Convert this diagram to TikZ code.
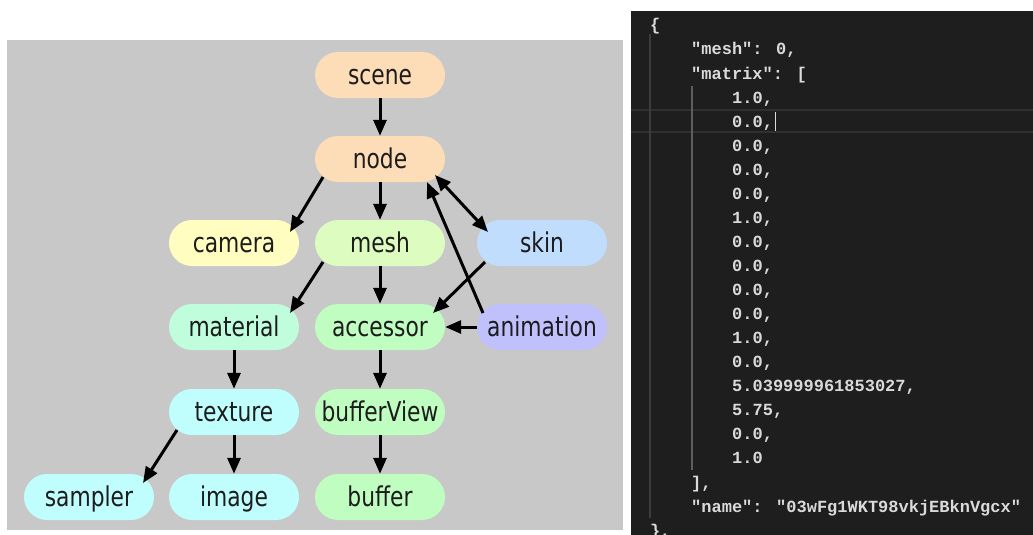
\documentclass[tikz,border=0pt]{standalone}
\usepackage{fontspec}
\setmainfont{DejaVu Sans}
\newfontfamily\codefont{Liberation Mono}
\usetikzlibrary{arrows.meta}

\definecolor{panelgray}{HTML}{C8C8C8}
\definecolor{editorbg}{HTML}{1E1E1E}
\definecolor{codetext}{HTML}{DADADA}
\definecolor{guidedim}{HTML}{3C3C3C}
\definecolor{guideact}{HTML}{5E5E5E}
\definecolor{linehl}{HTML}{303030}
\definecolor{labeltext}{HTML}{1C1C1C}
\definecolor{peach}{HTML}{FDDCB8}
\definecolor{paleyellow}{HTML}{FFFDC0}
\definecolor{palelime}{HTML}{DDFDC0}
\definecolor{paleblue}{HTML}{C0DDFD}
\definecolor{mint}{HTML}{C0FDDD}
\definecolor{palegreen}{HTML}{C0FDC0}
\definecolor{lavender}{HTML}{C0C0FD}
\definecolor{palecyan}{HTML}{C0FDFD}

% tall label lettering of the graph nodes
\newcommand{\tallword}[1]{\scalebox{1}[1.25]{#1}}

\begin{document}
\begin{tikzpicture}[x=1pt,y=-1pt,
  pill/.style={rectangle, rounded corners=23pt, minimum width=130pt,
    minimum height=46pt, inner sep=2pt, text=labeltext,
    text height=24pt, text depth=5pt,
    font=\fontsize{21.8}{25}\selectfont},
  arr/.style={line width=3pt, -{Triangle[length=16pt,width=13pt]}},
  biarr/.style={line width=3pt, {Triangle[length=16pt,width=13pt]}-{Triangle[length=16pt,width=13pt]}},
  code/.style={anchor=base west, inner sep=0pt, text=codetext,
    font=\codefont\bfseries\fontsize{17}{20}\selectfont},
  guide/.style={line width=1.2pt}]

\useasboundingbox (0,0) rectangle (1033,535);
\fill[white] (0,0) rectangle (1033,535);

% ---------------- glTF object graph ----------------
\fill[panelgray] (7,40) rectangle (623,530);

\node[pill, fill=peach]      (scene)  at (380,75)  {\tallword{scene}};
\node[pill, fill=peach]      (nd)     at (380,159) {\tallword{node}};
\node[pill, fill=paleyellow] (camera) at (234,243) {\tallword{camera}};
\node[pill, fill=palelime]   (mesh)   at (380,243) {\tallword{mesh}};
\node[pill, fill=paleblue]   (skin)   at (542,243) {\tallword{skin}};
\node[pill, fill=mint]       (mat)    at (234,327) {\tallword{material}};
\node[pill, fill=palegreen]  (acc)    at (380,327) {\tallword{accessor}};
\node[pill, fill=lavender]   (anim)   at (542,327) {\tallword{animation}};
\node[pill, fill=palecyan]   (tex)    at (234,412) {\tallword{texture}};
\node[pill, fill=palegreen]  (bview)  at (380,412) {\tallword{bufferView}};
\node[pill, fill=palecyan]   (samp)   at (89,497)  {\tallword{sampler}};
\node[pill, fill=palecyan]   (img)    at (234,497) {\tallword{image}};
\node[pill, fill=palegreen]  (buf)    at (380,497) {\tallword{buffer}};

\draw[arr] (scene.south) -- (nd.north);
\draw[arr] (nd.south) -- (mesh.north);
\draw[arr] ([shift={(-57,18)}]nd.center) -- ([shift={(56,-11)}]camera.center);
\draw[biarr] ([shift={(55,16)}]nd.center) -- ([shift={(-54,-11)}]skin.center);
\draw[arr] ([shift={(-59,-14)}]anim.center) -- ([shift={(47,23)}]nd.center);
\draw[arr] ([shift={(-57,19)}]mesh.center) -- ([shift={(56,-14)}]mat.center);
\draw[arr] (mesh.south) -- (acc.north);
\draw[arr] ([shift={(-57,19)}]skin.center) -- ([shift={(53,-14)}]acc.center);
\draw[arr] (anim.west) -- (acc.east);
\draw[arr] (mat.south) -- (tex.north);
\draw[arr] (acc.south) -- (bview.north);
\draw[arr] ([shift={(-57,18)}]tex.center) -- ([shift={(54,-14)}]samp.center);
\draw[arr] (tex.south) -- (img.north);
\draw[arr] (bview.south) -- (buf.north);

% ---------------- JSON editor ----------------
\fill[editorbg] (631,11) rectangle (1033,535);
% current line border
\draw[linehl, line width=1.5pt] (631,110) -- (1033,110);
\draw[linehl, line width=1.5pt] (631,132) -- (1033,132);
% indent guides
\draw[guide, guidedim] (650,34) -- (650,518);
\draw[guide, guideact] (692,86) -- (692,470);

\node[code] (c0)  at (650,31)  {\{};
\node[code] (c1)  at (691,55)  {"mesh": 0,};
\node[code] (c2)  at (691,79)  {"matrix": [};
\node[code] (c3)  at (732,103) {1.0,};
\node[code] (c4)  at (732,127) {0.0,};
\node[code] (c5)  at (732,151) {0.0,};
\node[code] (c6)  at (732,175) {0.0,};
\node[code] (c7)  at (732,199) {0.0,};
\node[code] (c8)  at (732,223) {1.0,};
\node[code] (c9)  at (732,247) {0.0,};
\node[code] (c10) at (732,271.5) {0.0,};
\node[code] (c11) at (732,295.5) {0.0,};
\node[code] (c12) at (732,319.6) {0.0,};
\node[code] (c13) at (732,343.6) {1.0,};
\node[code] (c14) at (732,367.7) {0.0,};
\node[code] (c15) at (732,391.7) {5.039999961853027,};
\node[code] (c16) at (732,415.8) {5.75,};
\node[code] (c17) at (732,439.8) {0.0,};
\node[code] (c18) at (732,463.9) {1.0};
\node[code] (c19) at (691,488) {],};
\node[code] (c20) at (691,512) {"name": "03wFg1WKT98vkjEBknVgcx"};
\node[code] (c21) at (650,536) {\},};

% text cursor
\draw[codetext, line width=1.2pt] ([shift={(2,-15)}]c4.base east) -- ([shift={(2,4)}]c4.base east);
\end{tikzpicture}
\end{document}
